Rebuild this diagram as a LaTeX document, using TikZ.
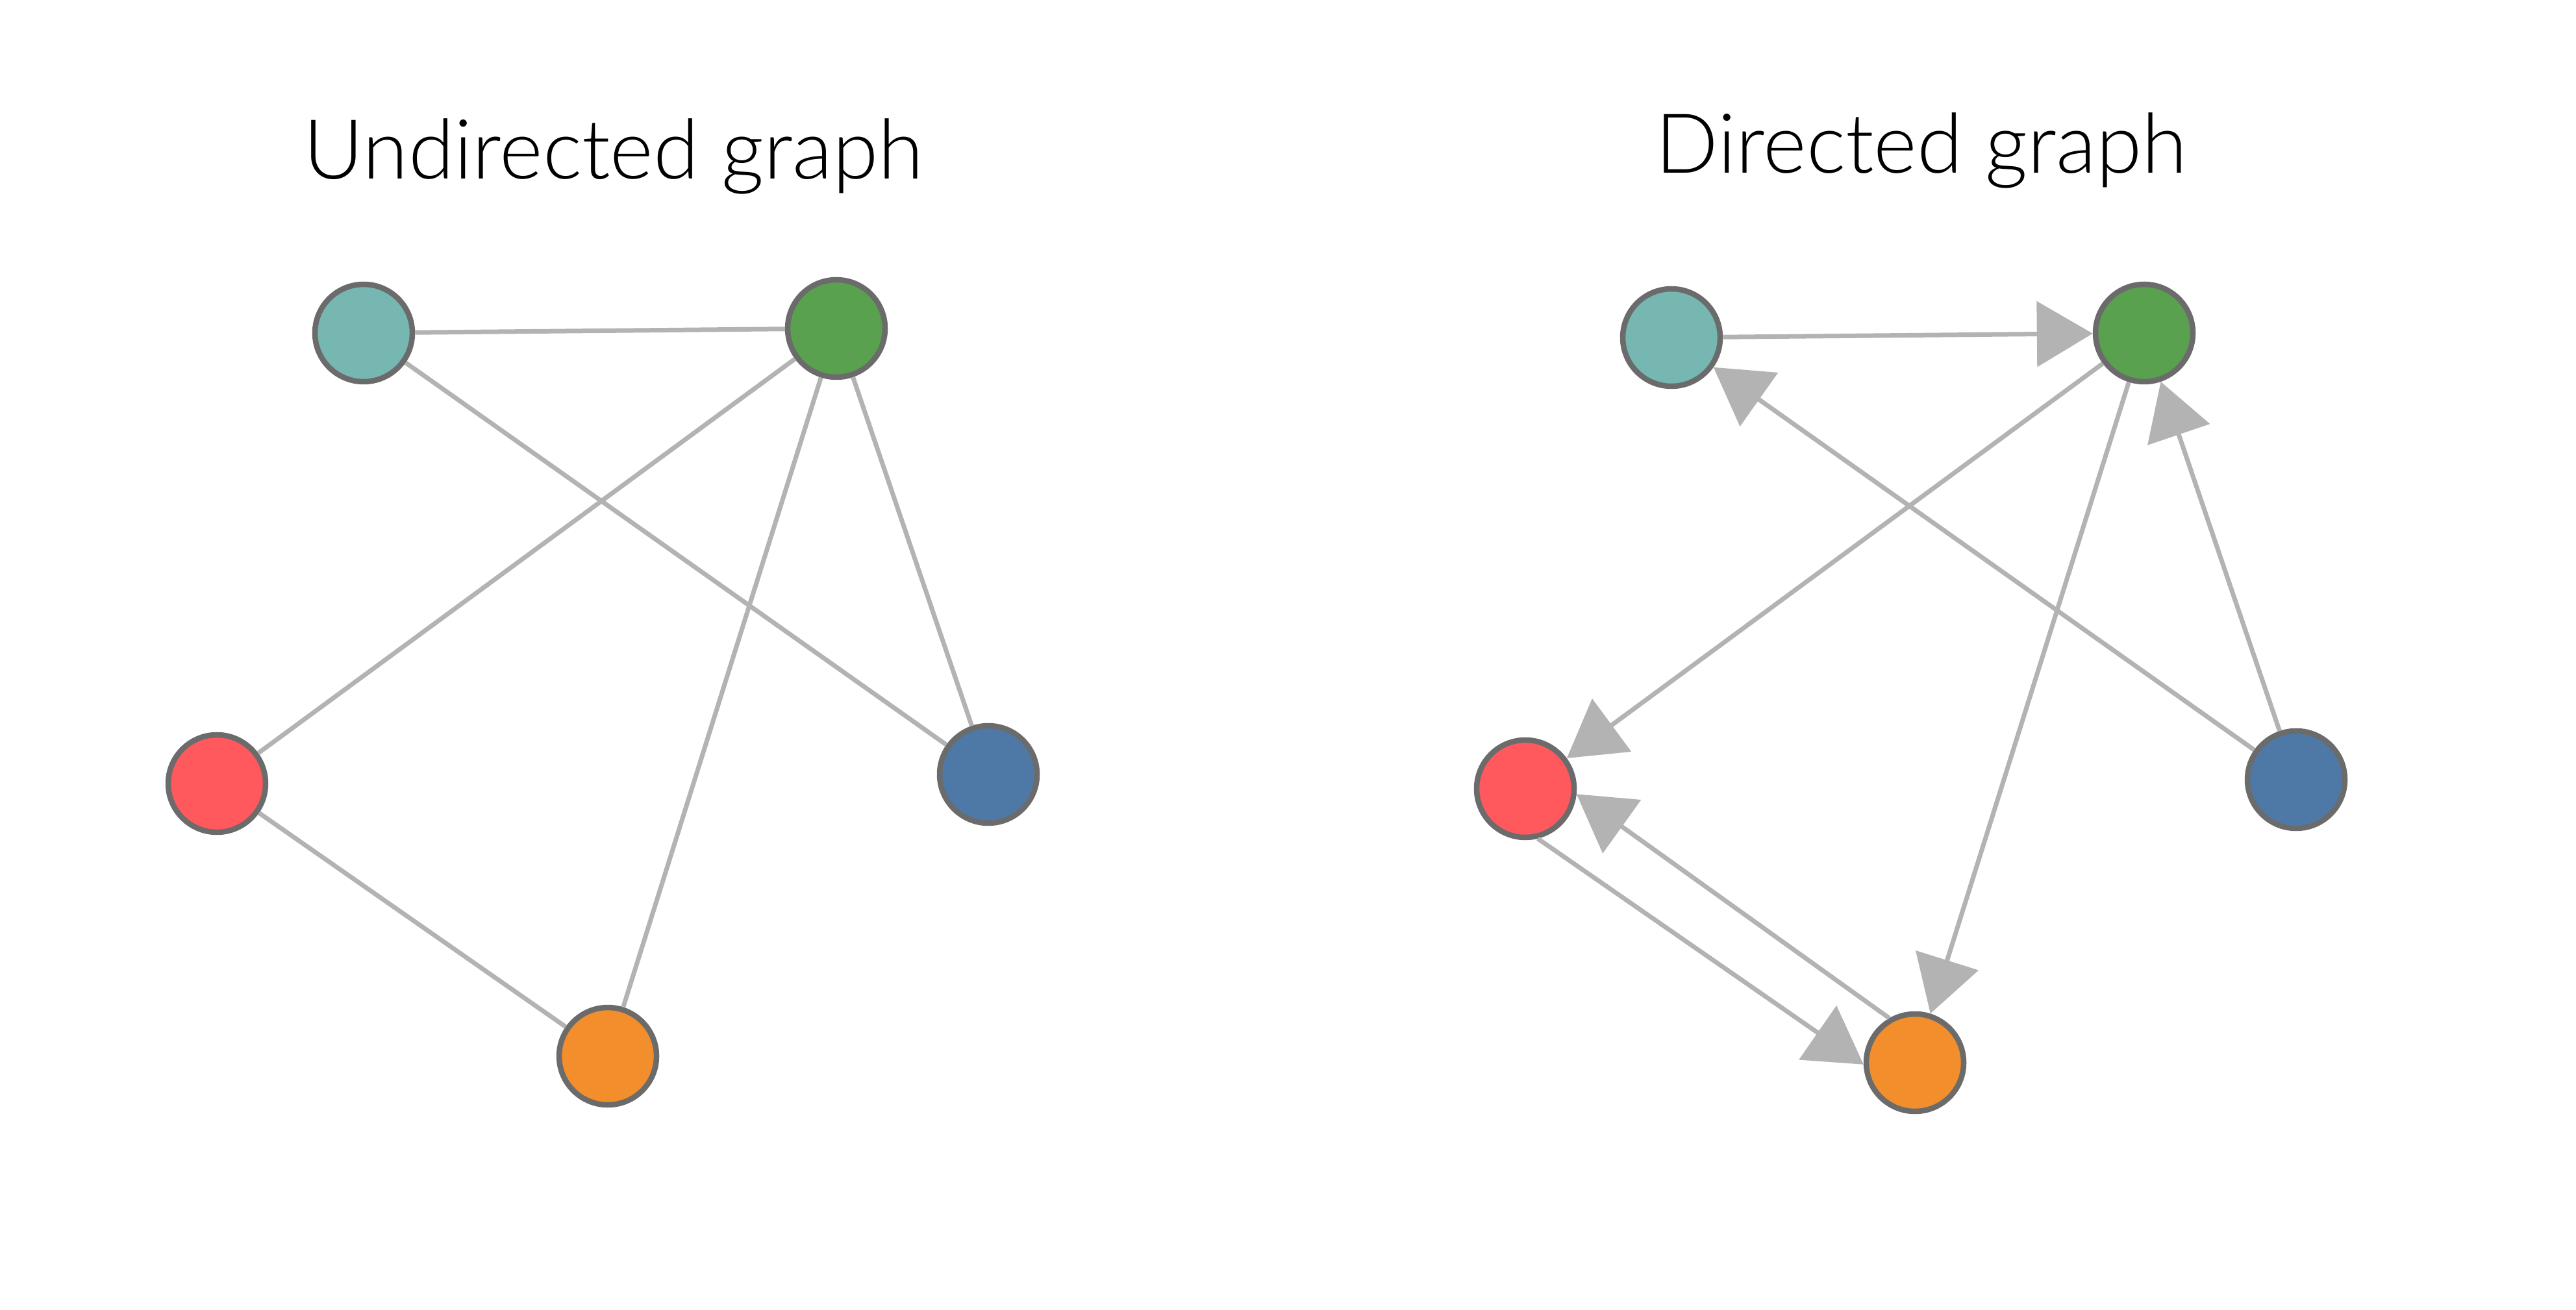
\documentclass[tikz,border=0pt]{standalone}
\usepackage{fontspec}
\setmainfont{Lato}[UprightFont={* Light}]
\usetikzlibrary{arrows.meta}

\definecolor{nodeline}{HTML}{6B6B6B}
\definecolor{edgegray}{HTML}{B3B3B3}
\definecolor{tteal}{HTML}{76B7B2}
\definecolor{tgreen}{HTML}{59A14F}
\definecolor{tred}{HTML}{FF585D}
\definecolor{tblue}{HTML}{4E79A7}
\definecolor{torange}{HTML}{F28E2B}

\begin{document}
\begin{tikzpicture}[
  vert/.style={circle, draw=nodeline, line width=0.085cm, minimum size=1.5cm, inner sep=0pt},
  link/.style={draw=edgegray, line width=0.07cm},
  dirlink/.style={link, -{Triangle[length=0.86cm, width=1.0cm]}},
  title/.style={font=\fontsize{36.3pt}{40pt}\selectfont, anchor=base},
]
  \useasboundingbox (0,0) rectangle (39.67,20.17);

  % undirected graph
  \node[title] (utitle) at (9.45,17.41) {Undirected graph};
  \node[vert, fill=tteal]   (uteal)   at (5.60,15.04) {};
  \node[vert, fill=tgreen]  (ugreen)  at (12.88,15.11) {};
  \node[vert, fill=tred]    (ured)    at (3.34,8.10) {};
  \node[vert, fill=tblue]   (ublue)   at (15.22,8.24) {};
  \node[vert, fill=torange] (uorange) at (9.36,3.90) {};

  \draw[link] (uteal) -- (ugreen);
  \draw[link] (uteal) -- (ublue);
  \draw[link] (ugreen) -- (ured);
  \draw[link] (ugreen) -- (uorange);
  \draw[link] (ugreen) -- (ublue);
  \draw[link] (ured) -- (uorange);

  % directed graph
  \node[title] (dtitle) at (29.59,17.50) {Directed graph};
  \node[vert, fill=tteal]   (dteal)   at (25.74,14.97) {};
  \node[vert, fill=tgreen]  (dgreen)  at (33.02,15.04) {};
  \node[vert, fill=tred]    (dred)    at (23.49,8.02) {};
  \node[vert, fill=tblue]   (dblue)   at (35.36,8.16) {};
  \node[vert, fill=torange] (dorange) at (29.49,3.80) {};

  \draw[dirlink] (dteal) -- (dgreen);
  \draw[dirlink] (dblue) -- (dteal);
  \draw[dirlink] (dgreen) -- (dred);
  \draw[dirlink] (dgreen) -- (dorange);
  \draw[dirlink] (dblue) -- (dgreen);
  \draw[dirlink] (dred.-76) -- (dorange.182);
  \draw[dirlink] (dorange.120) -- (dred.-6);
\end{tikzpicture}
\end{document}
